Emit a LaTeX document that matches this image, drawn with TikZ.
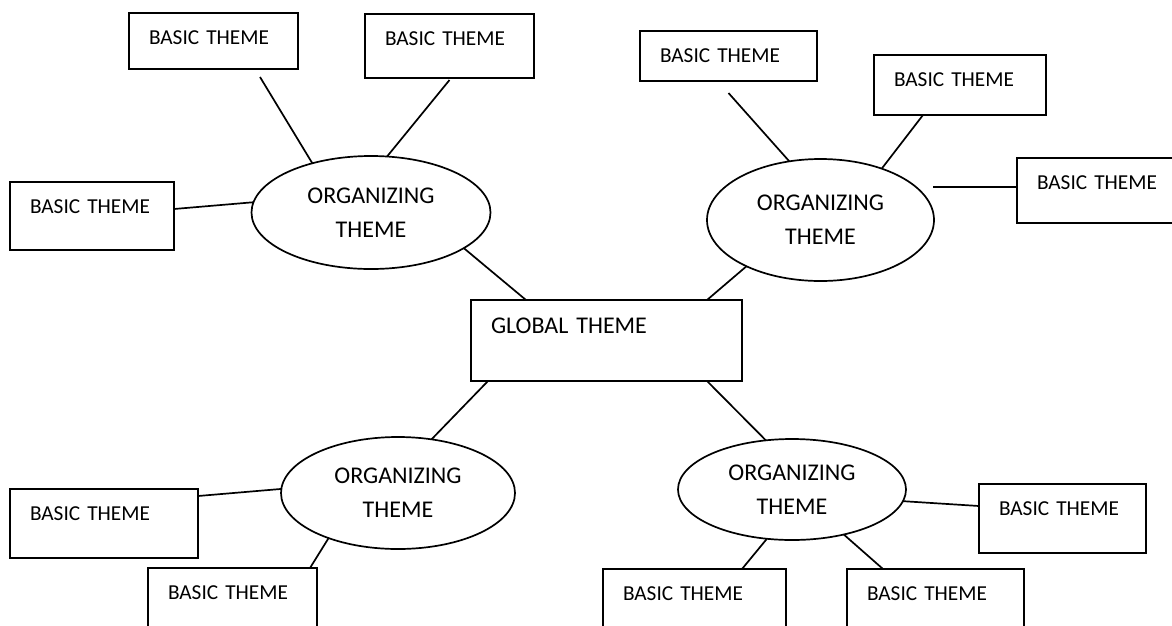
\documentclass[tikz,border=0pt]{standalone}
\usepackage{fontspec}
\setmainfont{Carlito}
\usetikzlibrary{shapes.geometric}
\begin{document}
\begin{tikzpicture}[x=1pt,y=1pt,
  basic/.style={draw, line width=1.7pt, anchor=north west, inner xsep=20pt, inner ysep=0pt,
    outer sep=0pt, align=left, text height=31.5pt, font=\fontsize{21.3}{25}\selectfont},
  globalbox/.style={draw, line width=1.7pt, anchor=north west, inner xsep=20pt, inner ysep=0pt,
    outer sep=0pt, align=left, text height=33pt, font=\fontsize{24}{30}\selectfont},
  org/.style={draw, ellipse, line width=1.7pt, inner sep=0pt, outer sep=0pt, align=center,
    font=\fontsize{24}{34}\selectfont},
  link/.style={line width=1.7pt}]
\useasboundingbox (0,0) rectangle (1172,-625);
\clip (0,0) rectangle (1172,-625);
\fill[white] (0,0) rectangle (1172,-625);

% global theme
\node[globalbox, text width=231pt, text depth=48pt] (g) at (471,-300) {GLOBAL THEME};

% organizing themes
\node[org, minimum width=239pt, minimum height=113pt] (o1) at (371,-212.5) {ORGANIZING\\THEME};
\node[org, minimum width=227pt, minimum height=122pt] (o2) at (820.5,-220) {ORGANIZING\\THEME};
\node[org, minimum width=234pt, minimum height=112pt] (o3) at (398,-493) {ORGANIZING\\THEME};
\node[org, minimum width=228pt, minimum height=101pt] (o4) at (792,-489.5) {ORGANIZING\\THEME};

% basic themes
\node[basic, text width=129pt, text depth=24.5pt] (tl1) at (129,-13) {BASIC THEME};
\node[basic, text width=129pt, text depth=32.5pt] (tl2) at (365,-14) {BASIC THEME};
\node[basic, text width=124pt, text depth=36.5pt] (l1) at (10,-182) {BASIC THEME};
\node[basic, text width=137pt, text depth=18.5pt] (tr1) at (640,-31) {BASIC THEME};
\node[basic, text width=132pt, text depth=28.5pt] (tr2) at (874,-55) {BASIC THEME};
\node[basic, text width=130pt, text depth=33.5pt] (tr3) at (1017,-158) {BASIC THEME};
\node[basic, text width=148pt, text depth=37.5pt] (bl1) at (10,-489) {BASIC THEME};
\node[basic, text width=129pt, text depth=38.5pt] (bl2) at (148,-568) {BASIC THEME};
\node[basic, text width=127pt, text depth=37.5pt] (br1) at (979,-484) {BASIC THEME};
\node[basic, text width=143pt, text depth=38.5pt] (br2) at (603,-569) {BASIC THEME};
\node[basic, text width=137pt, text depth=38.5pt] (br3) at (847,-569) {BASIC THEME};

% connectors
\draw[link] ([shift={(46.5,-8)}]tl1.south) -- (o1.140);
\draw[link] ([yshift=-2pt]tl2.south) -- (o1.74);
\draw[link] ([yshift=7pt]l1.east) -- (o1.175);
\draw[link] (o1.339) -- ([xshift=-80.5pt]g.north);
\draw[link] ([xshift=100.5pt]g.north) -- (o2.212);
\draw[link] ([yshift=-12pt]tr1.south) -- (o2.118);
\draw[link] ([xshift=-37pt]tr2.south) -- (o2.40);
\draw[link] ([shift={(-1,33)}]o2.east) -- ([yshift=3.5pt]tr3.west);
\draw[link] ([xshift=-118.5pt]g.south) -- (o3.58);
\draw[link] ([yshift=-7pt]bl1.north east) -- (o3.178);
\draw[link] ([xshift=77.5pt]bl2.north) -- (o3.213);
\draw[link] ([xshift=100.5pt]g.south) -- (o4.118);
\draw[link] (o4.354) -- ([yshift=12.5pt]br1.west);
\draw[link] (o4.243) -- ([xshift=47.5pt]br2.north);
\draw[link] (o4.319) -- ([xshift=-52.5pt]br3.north);
\end{tikzpicture}
\end{document}
